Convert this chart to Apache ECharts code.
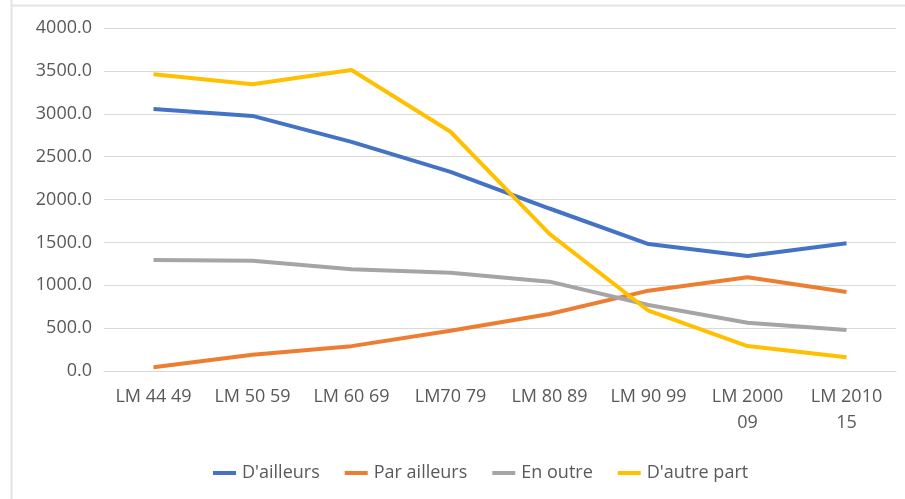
<!DOCTYPE html>
<html>
<head>
<meta charset="utf-8">
<script src="https://cdn.jsdelivr.net/npm/echarts@6/dist/echarts.min.js"></script>
<style>
  html, body { margin: 0; padding: 0; background: #fff; }
  #app { width: 905px; height: 499px; }
</style>
</head>
<body>
<div id="app"></div>
<script>
var categories = ['LM 44 49', 'LM 50 59', 'LM 60 69', 'LM70 79', 'LM 80 89', 'LM 90 99', 'LM 2000\n09', 'LM 2010\n15'];
var dailleurs = [3055, 2975, 2672, 2322, 1895, 1480, 1340, 1490];
var parAilleurs = [43, 190, 290, 470, 665, 937, 1093, 921];
var enOutre = [1294, 1286, 1186, 1147, 1042, 770, 563, 478];
var dautrePart = [3460, 3343, 3510, 2790, 1600, 703, 291, 160];

var FONT = '"Open Sans", sans-serif';

function line(name, data, color) {
    return {
        name: name,
        type: 'line',
        data: data,
        symbol: 'none',
        lineStyle: { color: color, width: 4 },
        itemStyle: { color: color }
    };
}

var chart = echarts.init(document.getElementById('app'));
chart.setOption({
    animation: false,
    textStyle: { fontFamily: FONT },
    graphic: [
        { type: 'line', shape: { x1: 11.5, y1: 0, x2: 11.5, y2: 499 }, style: { stroke: '#e3e3e3', lineWidth: 2 } },
        { type: 'line', shape: { x1: 11, y1: 5.5, x2: 905, y2: 5.5 }, style: { stroke: '#e3e3e3', lineWidth: 2 } }
    ],
    grid: { left: 104, right: 9, top: 28, bottom: 128 },
    legend: {
        top: 459,
        left: 208,
        itemWidth: 23,
        itemHeight: 4,
        itemGap: 25,
        icon: 'rect',
        textStyle: { fontFamily: FONT, fontSize: 18, color: '#595959', padding: [0, 0, 0, 1] },
        data: ["D'ailleurs", 'Par ailleurs', 'En outre', "D'autre part"]
    },
    xAxis: {
        type: 'category',
        data: categories,
        axisTick: { show: false },
        axisLine: { lineStyle: { color: '#d9d9d9', width: 1 } },
        axisLabel: { color: '#595959', fontSize: 18, fontFamily: FONT, margin: 13, lineHeight: 26, interval: 0 }
    },
    yAxis: {
        type: 'value',
        min: 0,
        max: 4000,
        interval: 500,
        axisLabel: {
            color: '#595959', fontSize: 18, fontFamily: FONT, margin: 12,
            formatter: function (v) { return v.toFixed(1); }
        },
        splitLine: { lineStyle: { color: '#d9d9d9', width: 1 } }
    },
    series: [
        line("D'ailleurs", dailleurs, '#4472c4'),
        line('Par ailleurs', parAilleurs, '#ed7d31'),
        line('En outre', enOutre, '#a5a5a5'),
        line("D'autre part", dautrePart, '#ffc000')
    ]
});
</script>
</body>
</html>
